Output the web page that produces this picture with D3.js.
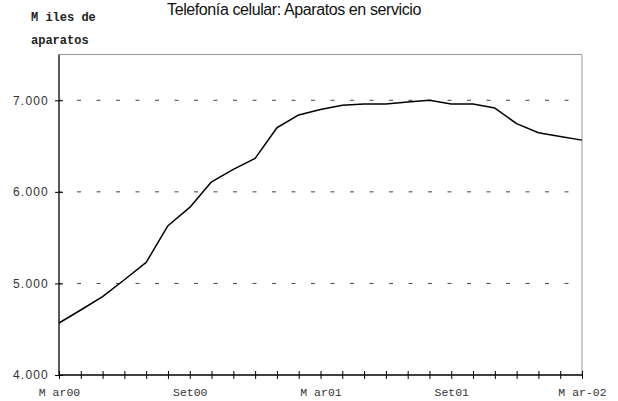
<!DOCTYPE html>
<html>
<head>
<meta charset="utf-8">
<script src="https://cdn.jsdelivr.net/npm/d3@7"></script>
<style>
  body { margin: 0; background: #fff; }
  svg { display: block; }
</style>
</head>
<body>
<svg id="chart" width="618" height="401"></svg>
<script>
// months from Mar00 to Mar02
var months = d3.range(0, 25)
var aparatos = [4568, 4710, 4855, 5040, 5230, 5630, 5830, 6110, 6245, 6365, 6700, 6840, 6900,
    6945, 6960, 6960, 6980, 7000, 6960, 6960, 6915, 6745, 6645, 6605, 6565]
var xTickPos = [0, 6, 12, 18, 24]
var xTickLabels = ["M ar00", "Set00", "M ar01", "Set01", "M ar-02"]
var yTicks = [4000, 5000, 6000, 7000]
var yTickLabels = ["4.000", "5.000", "6.000", "7.000"]
var yDomain = [4000, 7500]

var svg = d3.select("#chart")
var plotLeft = 59, plotRight = 582, plotTop = 54.5, plotBottom = 375

var x = d3.scaleLinear().domain([0, 24]).range([plotLeft, plotRight])
var y = d3.scaleLinear().domain(yDomain).range([plotBottom, plotTop])

// title
svg.append("text")
    .attr("x", 294).attr("y", 15)
    .attr("text-anchor", "middle")
    .style("font-family", "Liberation Sans, Arial, sans-serif")
    .style("font-size", "16px")
    .style("letter-spacing", "-0.4px")
    .attr("fill", "#111")
    .text("Telefonía celular: Aparatos en servicio")

// unit label
var unit = svg.append("g")
    .style("font-family", "Liberation Mono, Courier New, monospace")
    .style("font-size", "12px")
    .style("font-weight", "bold")
    .attr("fill", "#222")
unit.append("text").attr("x", 31).attr("y", 21).text("M iles de")
unit.append("text").attr("x", 31).attr("y", 44).text("aparatos")

// dashed grid
svg.append("g").selectAll("line")
    .data(yTicks.slice(1))
    .enter().append("line")
    .attr("x1", plotLeft).attr("x2", plotRight - 10)
    .attr("y1", function(d) { return y(d) }).attr("y2", function(d) { return y(d) })
    .attr("stroke", "#444")
    .attr("stroke-width", 1)
    .attr("stroke-dasharray", "4,15.5")
    .attr("stroke-dashoffset", 1.5)

// frame top and right
svg.append("path")
    .attr("d", "M" + plotLeft + "," + plotTop + "H" + plotRight + "V" + plotBottom)
    .attr("fill", "none")
    .attr("stroke", "#999")
    .attr("stroke-width", 1)

// y axis
var yAxis = svg.append("g")
    .attr("transform", "translate(" + plotLeft + ",0)")
    .call(d3.axisLeft(y).tickValues(yTicks).tickSize(4).tickFormat(function(d, i) { return yTickLabels[i] }))
yAxis.select(".domain").attr("stroke", "#000").attr("stroke-width", 1.3)
    .attr("d", "M0," + plotTop + "V" + plotBottom)
yAxis.selectAll(".tick line").attr("x1", -4).attr("x2", 4).attr("stroke", "#000")
yAxis.selectAll(".tick text")
    .attr("x", -10)
    .style("font-family", "Liberation Sans, Arial, sans-serif")
    .style("font-size", "12px")
    .style("letter-spacing", "1.2px")
    .attr("fill", "#333")

// x axis
var xAxis = svg.append("g")
    .attr("transform", "translate(0," + plotBottom + ")")
    .call(d3.axisBottom(x).tickValues(months).tickSize(4).tickFormat(function(d) {
        var i = xTickPos.indexOf(d)
        return i >= 0 ? xTickLabels[i] : ""
    }))
xAxis.select(".domain").attr("stroke", "#000").attr("stroke-width", 1.3)
    .attr("d", "M" + plotLeft + ",0H" + plotRight)
xAxis.selectAll(".tick line").attr("y1", -4).attr("y2", 4).attr("stroke", "#000")
xAxis.selectAll(".tick text")
    .attr("y", 13)
    .style("font-family", "Liberation Mono, Courier New, monospace")
    .style("font-size", "11.5px")
    .attr("fill", "#333")

// series
var line = d3.line()
    .x(function(d, i) { return x(months[i]) })
    .y(function(d) { return y(d) })

svg.append("path")
    .datum(aparatos)
    .attr("d", line)
    .attr("fill", "none")
    .attr("stroke", "#000")
    .attr("stroke-width", 1.5)
    .attr("stroke-linejoin", "round")
</script>
</body>
</html>
